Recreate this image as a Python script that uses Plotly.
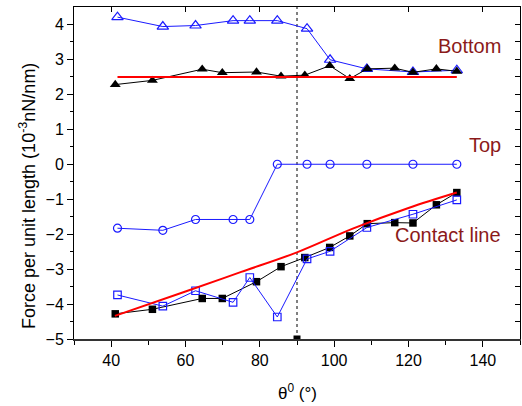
import plotly.graph_objects as go

# Data
theta_black = [41.1, 51.1, 64.5, 69.9, 79.1, 85.7, 92.1, 98.8, 104.2, 108.9, 116.3, 121.2, 127.5, 133.0]
bottom_black = [2.28, 2.40, 2.72, 2.62, 2.64, 2.52, 2.55, 2.82, 2.45, 2.73, 2.75, 2.63, 2.73, 2.66]
contact_black = [-4.28, -4.15, -3.84, -3.84, -3.36, -2.93, -2.67, -2.38, -2.05, -1.70, -1.67, -1.68, -1.16, -0.81]

theta_blue = [41.7, 53.9, 62.7, 72.8, 77.3, 84.7, 92.7, 98.9, 108.8, 121.2, 133.0]
bottom_blue = [4.21, 3.94, 3.97, 4.11, 4.11, 4.11, 3.88, 2.99, 2.73, 2.64, 2.69]
top_blue = [-1.83, -1.89, -1.58, -1.58, -1.58, 0.0, 0.0, 0.0, 0.0, 0.0, 0.0]
contact_blue = [-3.74, -4.06, -3.62, -3.95, -3.24, -4.37, -2.71, -2.49, -1.81, -1.43, -1.02]

theta_model = [41.0, 60.0, 75.0, 90.0, 105.0, 120.0, 133.0]
contact_model = [-4.34, -3.64, -3.08, -2.52, -1.84, -1.25, -0.81]
bottom_model_theta = [41.7, 133.0]
bottom_model = [2.5, 2.5]

vline_x = [90, 90]
vline_y = [-5, 4.5]

labels = ["Bottom", "Top", "Contact line"]
label_x = [145.4, 145.4, 145.4]
label_y = [3.38, 0.56, -2.01]

BLUE = "#1a1aff"
RED = "#ff0000"
DARK = "#8b1a1a"
FONT = "Liberation Sans, Arial, Helvetica, sans-serif"

fig = go.Figure()

# dotted vertical line at 90 deg
fig.add_trace(go.Scatter(x=vline_x, y=vline_y, mode="lines",
                         line=dict(color="black", width=1, dash="dot"),
                         showlegend=False, hoverinfo="skip"))
fig.add_trace(go.Scatter(x=[vline_x[0]], y=[vline_y[0]], mode="markers",
                         marker=dict(symbol="square", size=7, color="black"),
                         showlegend=False, hoverinfo="skip"))

# Bottom
fig.add_trace(go.Scatter(x=theta_blue, y=bottom_blue, mode="lines+markers",
                         line=dict(color=BLUE, width=1),
                         marker=dict(symbol="triangle-up-open", size=10, color=BLUE,
                                     line=dict(width=1.2, color=BLUE)),
                         showlegend=False))
fig.add_trace(go.Scatter(x=theta_black, y=bottom_black, mode="lines+markers",
                         line=dict(color="black", width=1),
                         marker=dict(symbol="triangle-up", size=9.5, color="black"),
                         showlegend=False))
fig.add_trace(go.Scatter(x=bottom_model_theta, y=bottom_model, mode="lines",
                         line=dict(color=RED, width=2), showlegend=False))

# Top
fig.add_trace(go.Scatter(x=theta_blue, y=top_blue, mode="lines+markers",
                         line=dict(color=BLUE, width=1),
                         marker=dict(symbol="circle-open", size=8, color=BLUE,
                                     line=dict(width=1.2, color=BLUE)),
                         showlegend=False))

# Contact line
fig.add_trace(go.Scatter(x=theta_black, y=contact_black, mode="lines+markers",
                         line=dict(color="black", width=1),
                         marker=dict(symbol="square", size=7.5, color="black"),
                         showlegend=False))
fig.add_trace(go.Scatter(x=theta_blue, y=contact_blue, mode="lines+markers",
                         line=dict(color=BLUE, width=1),
                         marker=dict(symbol="square-open", size=7.5, color=BLUE,
                                     line=dict(width=1.2, color=BLUE)),
                         showlegend=False))
fig.add_trace(go.Scatter(x=theta_model, y=contact_model, mode="lines",
                         line=dict(color=RED, width=2, shape="spline"), showlegend=False))

# dummy trace for mirrored top/right axes
fig.add_trace(go.Scatter(x=[None], y=[None], xaxis="x2", yaxis="y2",
                         showlegend=False, hoverinfo="skip"))

for t, xx, yy in zip(labels, label_x, label_y):
    fig.add_annotation(x=xx, y=yy, xref="x", yref="y", text=t, showarrow=False,
                       xanchor="right", yanchor="middle",
                       font=dict(family=FONT, size=20, color=DARK))

fig.add_annotation(x=0.5, y=-0.161, xref="paper", yref="paper", yanchor="middle",
                   text="θ<sup>0</sup> (°)", showarrow=False,
                   font=dict(family=FONT, size=17, color="black"))
fig.add_annotation(x=-0.103, y=0.431, xref="paper", yref="paper", xanchor="center",
                   yanchor="middle", textangle=-90,
                   text="Force per unit length (10<sup>-3</sup>nN/nm)", showarrow=False,
                   font=dict(family=FONT, size=18, color="black"))

fig.update_layout(
    width=522, height=406,
    margin=dict(l=74, r=2, t=7, b=67, autoexpand=False),
    paper_bgcolor="white", plot_bgcolor="white",
    font=dict(family=FONT, size=16, color="black"),
    xaxis=dict(range=[30, 150], tickmode="array", tickvals=[40, 60, 80, 100, 120, 140],
               ticks="outside", ticklen=6, tickwidth=1, tickcolor="black", automargin=False,
               minor=dict(tickvals=[30, 50, 70, 90, 110, 130, 150], ticks="outside", ticklen=4,
                          tickcolor="black"),
               showline=True, linecolor="#333", linewidth=1.5, showgrid=False, zeroline=False,
               tickfont=dict(size=16)),
    yaxis=dict(range=[-5, 4.5], tickmode="array", tickvals=list(range(-5, 5)),
               ticks="outside", ticklen=6, tickwidth=1, tickcolor="black", automargin=False,
               minor=dict(tickvals=[-4.5, -3.5, -2.5, -1.5, -0.5, 0.5, 1.5, 2.5, 3.5],
                          ticks="outside", ticklen=3, tickcolor="black"),
               showline=True, linecolor="black", linewidth=1, showgrid=False, zeroline=False,
               tickfont=dict(size=16)),
    xaxis2=dict(range=[30, 150], overlaying="x", side="top", tickmode="array",
                tickvals=[40, 60, 80, 100, 120, 140], ticks="inside", ticklen=5,
                tickcolor="black", showticklabels=False, showline=True, linecolor="black",
                linewidth=1, showgrid=False, zeroline=False, automargin=False),
    yaxis2=dict(range=[-5, 4.5], overlaying="y", side="right", tickmode="array",
                tickvals=[v / 2 for v in range(-10, 10)], ticks="inside", ticklen=5,
                tickcolor="black", showticklabels=False, showline=True, linecolor="black",
                linewidth=1, showgrid=False, zeroline=False, automargin=False),
)

fig.write_html("out.html", config={"displayModeBar": False},
               post_script="document.body.style.margin='0';document.body.style.overflow='hidden';")
